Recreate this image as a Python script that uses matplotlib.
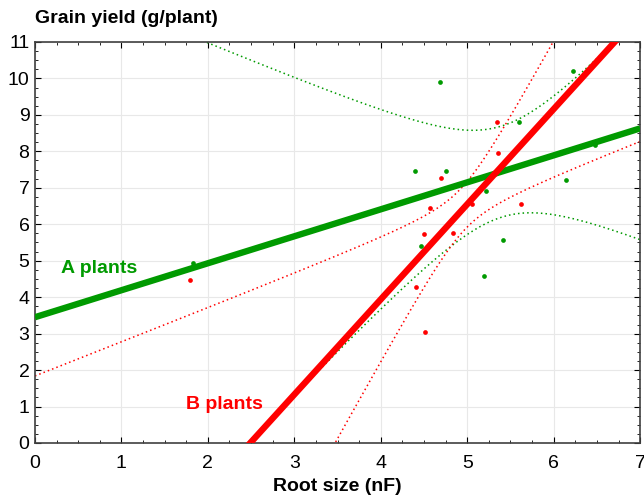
import numpy as np
from matplotlib import pyplot as plt
from matplotlib.ticker import MultipleLocator

# root size (nF) and grain yield (g/plant)
a_root = [1.83, 4.69, 6.22, 5.60, 6.48, 4.40, 4.75, 5.22, 6.14, 4.47, 5.41, 5.19]
a_yield = [4.93, 9.91, 10.20, 8.81, 8.18, 7.47, 7.47, 6.92, 7.22, 5.41, 5.56, 4.58]
b_root = [1.79, 5.34, 5.36, 4.70, 4.57, 5.06, 5.62, 4.50, 4.83, 4.41, 4.51]
b_yield = [4.47, 8.81, 7.96, 7.27, 6.45, 6.56, 6.55, 5.73, 5.75, 4.29, 3.04]

# regression lines and 95% bands:
# intercept, slope, band centre, band half-width at centre, band half-slope
a_fit = [3.45, 0.74, 5.40, 1.25, 1.74]
b_fit = [-6.50, 2.61, 4.95, 0.62, 1.68]

GREEN = "#009a00"
RED = "#ff0000"

plt.rcParams["font.family"] = ["Liberation Sans", "DejaVu Sans"]

fig = plt.figure(figsize=(6.44, 4.97), dpi=100)
ax = fig.add_axes([0.0543, 0.1087, 0.9397, 0.8068])


def draw_group(xs, ys, fit, color):
    icept, slope, xm, h0, d = fit
    grid = np.linspace(0, 7, 500)
    yhat = icept + slope * grid
    half = np.sqrt(h0 ** 2 + (d * (grid - xm)) ** 2)
    ax.plot(grid, yhat + half, color=color, lw=1.1, ls=(0, (1, 2)), zorder=2)
    ax.plot(grid, yhat - half, color=color, lw=1.1, ls=(0, (1, 2)), zorder=2)
    ax.plot(grid, yhat, color=color, lw=4.6, solid_capstyle="butt", zorder=3)
    ax.plot(xs, ys, "o", color=color, ms=3.4, mew=0, zorder=4)


draw_group(a_root, a_yield, a_fit, GREEN)
draw_group(b_root, b_yield, b_fit, RED)

ax.set_xlim(0, 7)
ax.set_ylim(0, 11)
ax.xaxis.set_major_locator(MultipleLocator(1))
ax.xaxis.set_minor_locator(MultipleLocator(0.25))
ax.yaxis.set_major_locator(MultipleLocator(1))
ax.yaxis.set_minor_locator(MultipleLocator(0.25))
ax.tick_params(which="both", direction="in", top=True, right=True, labelsize=14)
ax.tick_params(axis="x", pad=9)
ax.tick_params(axis="y", pad=4)
ax.tick_params(which="major", length=4)
ax.tick_params(which="minor", length=2.5)
ax.grid(True, which="major", color="#e8e8e8", lw=0.8)
ax.set_axisbelow(True)
for sp in ax.spines.values():
    sp.set_color("#404040")
    sp.set_linewidth(1.2)

ax.set_xlabel("Root size (nF)", fontsize=14, fontweight="bold", labelpad=4)
fig.text(0.0543, 0.962, "Grain yield (g/plant)", fontsize=14, fontweight="bold", va="center", ha="left")
ax.text(0.3, 4.8, "A plants", color=GREEN, fontsize=14, fontweight="bold", va="center")
ax.text(1.75, 1.05, "B plants", color=RED, fontsize=14, fontweight="bold", va="center")

plt.savefig("out.png", dpi=100)
